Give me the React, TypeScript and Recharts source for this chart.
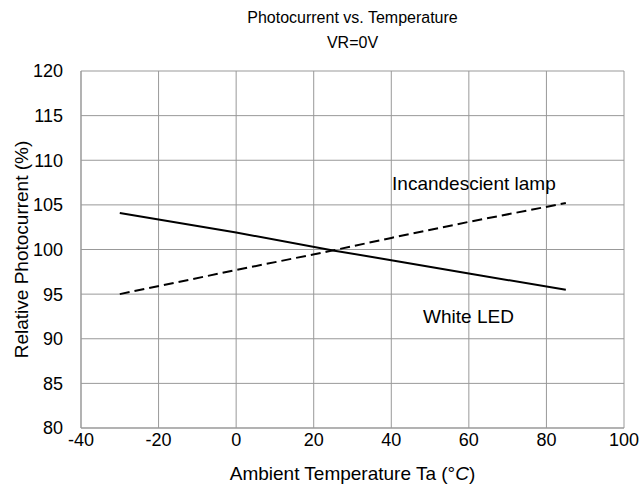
import React from 'react';
import { LineChart, Line, XAxis, YAxis, CartesianGrid, ReferenceDot, Label } from 'recharts';

const temps = [-30, 0, 25, 40, 60, 85];
const whiteLed = [104.1, 101.9, 99.9, 98.8, 97.3, 95.5];
const incandescent = [95.0, 97.7, 99.9, 101.3, 103.1, 105.2];
const xTicks = [-40, -20, 0, 20, 40, 60, 80, 100];
const yTicks = [80, 85, 90, 95, 100, 105, 110, 115, 120];
const titleLines = ['Photocurrent vs. Temperature', 'VR=0V'];

const data = temps.map((t, i) => ({ t, led: whiteLed[i], lamp: incandescent[i] }));

const FONT = 'Liberation Sans, Arial, sans-serif';

const XLabel = (props: any) => {
  const vb = props.viewBox || {};
  const x = (vb.x || 0) + (vb.width || 0) / 2;
  const y = (vb.y || 0) + (vb.height || 0) - 12;
  return (
    <text x={x} y={y} textAnchor="middle" fill="#000" fontSize={19} fontFamily={FONT}>
      Ambient Temperature Ta (°<tspan fontStyle="italic">C</tspan>)
    </text>
  );
};

export default function App() {
  return (
    <div style={{ position: 'absolute', left: 0, top: 0, width: 640, height: 492, background: '#fff', fontFamily: FONT }}>
      <LineChart width={640} height={492} data={data} margin={{ top: 71, right: 16, bottom: 0, left: 0 }}>
        <CartesianGrid stroke="#999" strokeWidth={1} />
        <XAxis
          dataKey="t"
          type="number"
          domain={[-40, 100]}
          ticks={xTicks}
          interval={0}
          height={64}
          stroke="#999"
          tickLine={false}
          tickSize={0}
          tickMargin={5}
          tick={{ fill: '#000', fontSize: 18, fontFamily: FONT }}
        >
          <Label content={<XLabel />} />
        </XAxis>
        <YAxis
          type="number"
          domain={[80, 120]}
          ticks={yTicks}
          interval={0}
          width={81}
          stroke="#999"
          tickLine={false}
          tickSize={0}
          tickMargin={18}
          tick={{ fill: '#000', fontSize: 18, fontFamily: FONT }}
        >
          <Label value="Relative Photocurrent (%)" angle={-90} position="insideLeft" offset={21} style={{ fill: '#000', fontSize: 19, fontFamily: FONT, textAnchor: 'middle' }} />
        </YAxis>
        <Line dataKey="led" stroke="#000" strokeWidth={2} dot={false} isAnimationActive={false} />
        <Line dataKey="lamp" stroke="#000" strokeWidth={2} strokeDasharray="10 5" dot={false} isAnimationActive={false} />
        <ReferenceDot x={61.3} y={107.45} r={0} stroke="none" fill="none" label={{ value: 'Incandescient lamp', position: 'center', fill: '#000', fontSize: 19, fontFamily: FONT }} />
        <ReferenceDot x={59.9} y={92.55} r={0} stroke="none" fill="none" label={{ value: 'White LED', position: 'center', fill: '#000', fontSize: 19, fontFamily: FONT }} />
      </LineChart>
      <div style={{ position: 'absolute', left: 81, width: 543, top: 5, textAlign: 'center', fontSize: 16, lineHeight: '25px', color: '#000' }}>
        {titleLines.map((l) => (
          <div key={l}>{l}</div>
        ))}
      </div>
    </div>
  );
}
